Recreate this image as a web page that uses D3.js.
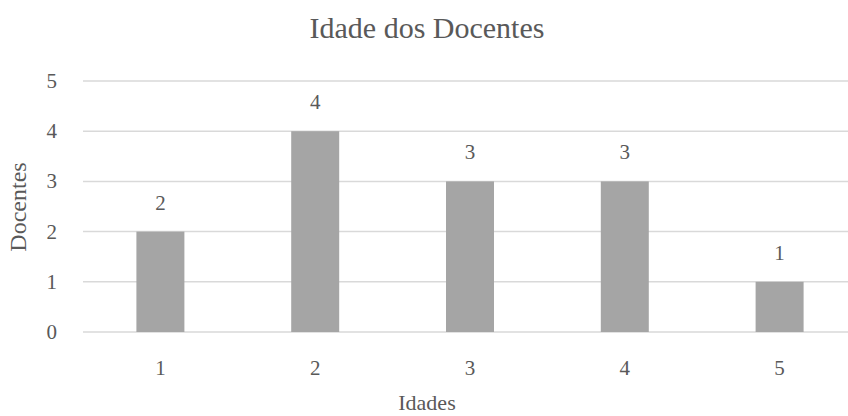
<!DOCTYPE html>
<html>
<head>
<meta charset="utf-8">
<script src="https://cdn.jsdelivr.net/npm/d3@7"></script>
<style>
body { margin: 0; background: #fff; }
text { font-family: "Liberation Serif", "DejaVu Serif", serif; fill: #595959; }
</style>
</head>
<body>
<svg id="chart"></svg>
<script>
var categories = ["1", "2", "3", "4", "5"];
var values = [2, 4, 3, 3, 1];
var yTicks = [0, 1, 2, 3, 4, 5];

var width = 848, height = 416;
var svg = d3.select("#chart").attr("width", width).attr("height", height);

var x = d3.scaleBand()
    .domain(categories)
    .range([83, 857])
    .paddingInner(0.69)
    .paddingOuter(0.345);

var y = d3.scaleLinear().domain([0, 5]).range([332, 81]);

// gridlines
svg.append("g").selectAll("line")
    .data(yTicks)
    .enter()
    .append("line")
    .attr("x1", 83)
    .attr("x2", 848)
    .attr("y1", function(d) { return y(d); })
    .attr("y2", function(d) { return y(d); })
    .attr("stroke", "#d9d9d9")
    .attr("stroke-width", 1.5);

// y labels
svg.append("g").selectAll("text")
    .data(yTicks)
    .enter()
    .append("text")
    .attr("x", 57)
    .attr("y", function(d) { return y(d) + 7; })
    .attr("text-anchor", "end")
    .attr("font-size", 21)
    .text(function(d) { return d; });

// bars
svg.append("g").selectAll("rect")
    .data(values)
    .enter()
    .append("rect")
    .attr("x", function(d, i) { return x(categories[i]); })
    .attr("width", x.bandwidth())
    .attr("y", function(d) { return y(d); })
    .attr("height", function(d) { return y(0) - y(d); })
    .attr("fill", "#a5a5a5");

// value labels
svg.append("g").selectAll("text")
    .data(values)
    .enter()
    .append("text")
    .attr("x", function(d, i) { return x(categories[i]) + x.bandwidth() / 2; })
    .attr("y", function(d) { return y(d) - 22; })
    .attr("text-anchor", "middle")
    .attr("font-size", 21)
    .text(function(d) { return d; });

// x labels
svg.append("g").selectAll("text")
    .data(categories)
    .enter()
    .append("text")
    .attr("x", function(d) { return x(d) + x.bandwidth() / 2; })
    .attr("y", 375)
    .attr("text-anchor", "middle")
    .attr("font-size", 21)
    .text(function(d) { return d; });

// title
svg.append("text")
    .attr("x", 427)
    .attr("y", 38)
    .attr("text-anchor", "middle")
    .attr("font-size", 30)
    .text("Idade dos Docentes");

svg.append("text")
    .attr("x", 427)
    .attr("y", 410)
    .attr("text-anchor", "middle")
    .attr("font-size", 22)
    .text("Idades");

svg.append("text")
    .attr("transform", "translate(26,207) rotate(-90)")
    .attr("text-anchor", "middle")
    .attr("font-size", 24)
    .text("Docentes");
</script>
</body>
</html>
